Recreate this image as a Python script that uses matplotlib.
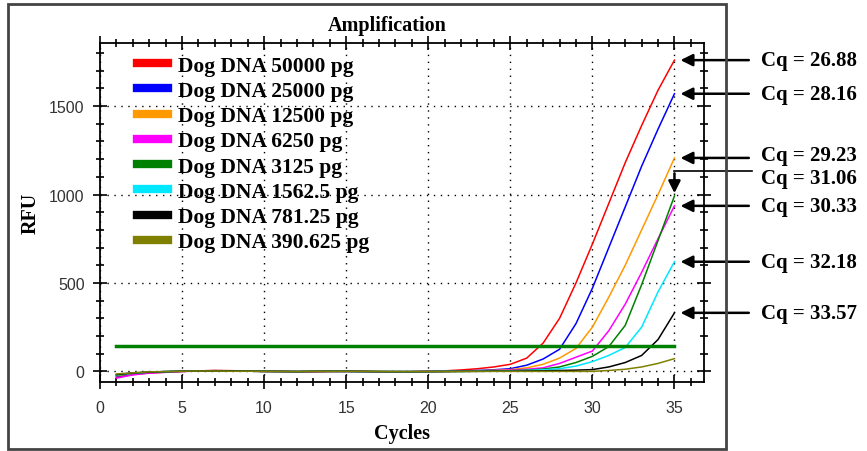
import matplotlib
matplotlib.use("Agg")
import matplotlib.pyplot as plt
from matplotlib.patches import Rectangle
from matplotlib.ticker import MultipleLocator

cycles = list(range(1, 36))

labels = ["Dog DNA 50000 pg", "Dog DNA 25000 pg", "Dog DNA 12500 pg", "Dog DNA 6250 pg",
          "Dog DNA 3125 pg", "Dog DNA 1562.5 pg", "Dog DNA 781.25 pg", "Dog DNA 390.625 pg"]
colors = ["#ff0000", "#0000ff", "#ff9900", "#ff00ff", "#008000", "#00e8ff", "#000000", "#808000"]

# RFU per cycle (1..35)
rfu_50000 = [-35, -18, -9, -5, 0, 3, 5, 4, 2, 0, 0, -2, -2, 0, 0, -2, -3, -3, -2, 0,
             3, 8, 15, 25, 40, 75, 160, 300, 500, 720, 950, 1180, 1390, 1590, 1760]
rfu_25000 = [-28, -14, -7, -3, 1, 3, 4, 3, 1, 0, -1, -2, -1, 0, 0, -1, -2, -2, -2, -1,
             0, 2, 5, 9, 15, 35, 70, 125, 270, 470, 700, 930, 1160, 1370, 1570]
rfu_12500 = [-25, -12, -6, -3, 0, 2, 4, 3, 1, 0, -1, -2, -1, 0, 1, 0, -1, -2, -2, -1,
             0, 1, 3, 6, 10, 20, 40, 75, 130, 250, 420, 600, 800, 1000, 1207]
rfu_6250 = [-38, -20, -10, -5, -1, 2, 3, 3, 1, 0, -1, -1, -1, 0, 0, -1, -2, -2, -2, -1,
            0, 1, 2, 4, 7, 12, 20, 45, 80, 115, 230, 380, 560, 750, 936]
rfu_3125 = [-22, -10, -5, -2, 0, 2, 3, 2, 1, 0, -1, -1, 0, 0, 0, -1, -1, -2, -2, -1,
            0, 0, 1, 2, 4, 7, 13, 25, 50, 85, 140, 260, 490, 740, 992]
rfu_1562 = [-20, -10, -4, -1, 1, 2, 3, 2, 1, 0, 0, -1, 0, 0, 0, -1, -1, -1, -1, -1,
            0, 0, 1, 1, 3, 5, 9, 15, 30, 55, 90, 135, 250, 450, 620]
rfu_781 = [-18, -9, -4, -1, 1, 2, 2, 2, 1, 0, 0, -1, 0, 0, 0, 0, -1, -1, -1, -1,
           -1, 0, 0, 1, 1, 2, 3, 5, 7, 10, 25, 50, 90, 180, 331]
rfu_390 = [-15, -8, -3, -1, 1, 2, 2, 1, 1, 0, 0, -1, 0, 0, 0, 0, -1, -1, -1, -1,
           -1, -1, 0, 0, 0, 0, 0, 0, 0, 0, 5, 12, 25, 45, 72]
series = [rfu_50000, rfu_25000, rfu_12500, rfu_6250, rfu_3125, rfu_1562, rfu_781, rfu_390]

threshold = 145
cq_values = ["26.88", "28.16", "29.23", "30.33", "31.06", "32.18", "33.57"]
cq_series = [0, 1, 2, 3, 4, 5, 6]

serif = "Liberation Serif"
sans = "Liberation Sans"

fig = plt.figure(figsize=(8.67, 4.52), dpi=100)
fig.patches.append(Rectangle((0.009, 0.004), 0.828, 0.985, transform=fig.transFigure,
                             fill=False, edgecolor="#444444", lw=2))
ax = fig.add_axes([0.1153, 0.1527, 0.6967, 0.75])

for vals, c, lab in zip(series, colors, labels):
    ax.plot(cycles, vals, color=c, lw=1.1, label=lab)
ax.plot([cycles[0], cycles[-1]], [threshold, threshold], color="#008000", lw=2.5)

ax.set_xlim(0, 36.8)
ax.set_ylim(-60, 1857)
ax.xaxis.set_major_locator(MultipleLocator(5))
ax.xaxis.set_minor_locator(MultipleLocator(1))
ax.yaxis.set_major_locator(MultipleLocator(500))
ax.yaxis.set_minor_locator(MultipleLocator(100))
ax.tick_params(which="both", direction="inout", top=True, right=True, width=1.2)
ax.tick_params(which="major", length=10)
ax.tick_params(which="minor", length=6)
ax.tick_params(axis="x", pad=8)
ax.tick_params(axis="y", pad=6)
ax.tick_params(labelsize=11.5, labelcolor="#333333")
for t in ax.get_xticklabels() + ax.get_yticklabels():
    t.set_family(sans)
for s in ax.spines.values():
    s.set_linewidth(1.3)
ax.grid(True, which="major", color="black", ls=(0, (1, 4)), lw=1)

ax.set_xlabel("Cycles", fontfamily=serif, fontweight="bold", fontsize=14.5, labelpad=6)
ax.set_ylabel("RFU", fontfamily=serif, fontweight="bold", fontsize=14.5, labelpad=6)
fig.text(0.447, 0.942, "Amplification", ha="center", va="center",
         fontfamily=serif, fontweight="bold", fontsize=14.5)

leg = ax.legend(loc="upper left", bbox_to_anchor=(0.03, 1.02), frameon=False,
                prop={"family": serif, "weight": "bold", "size": 15.5},
                handlelength=1.4, handletextpad=0.5, labelspacing=0.24)
for h in leg.get_lines():
    h.set_linewidth(6)

# Cq annotations
arrow = dict(arrowstyle="-|>", color="black", lw=1.8, mutation_scale=18)
for cq, idx in zip(cq_values, cq_series):
    yend = series[idx][-1]
    if cq == "31.06":
        ax.plot([39.7, 35.0], [1135, 1135], color="black", lw=1.2, clip_on=False)
        ax.annotate("", xy=(35.0, yend), xytext=(35.0, 1135), arrowprops=arrow,
                    annotation_clip=False)
        ax.text(40.3, 1092, "Cq = " + cq, fontfamily=serif, fontweight="bold",
                fontsize=15, va="center", clip_on=False)
        continue
    ytxt = yend + 15 if cq == "29.23" else yend
    ax.annotate("", xy=(35.2, yend), xytext=(39.7, yend), arrowprops=arrow,
                annotation_clip=False)
    ax.text(40.3, ytxt, "Cq = " + cq, fontfamily=serif, fontweight="bold",
            fontsize=15, va="center", clip_on=False)

fig.savefig("out.png", dpi=100)
